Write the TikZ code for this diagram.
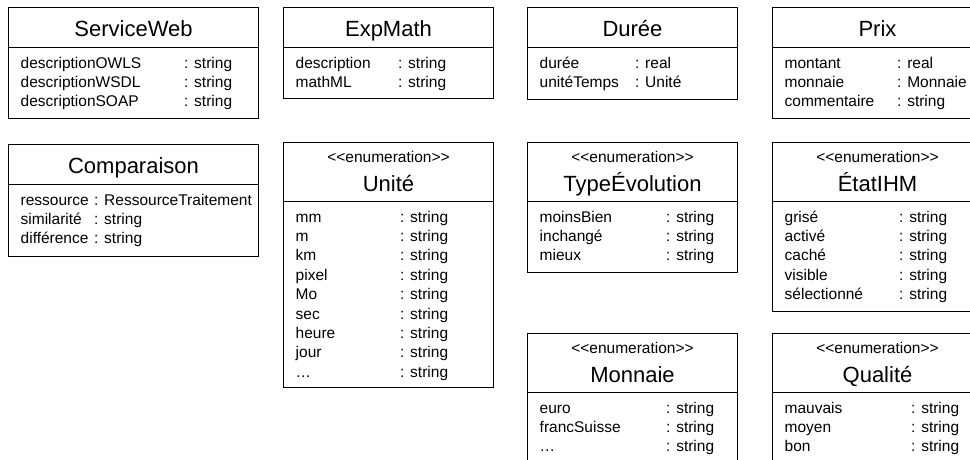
\documentclass[tikz,border=0pt]{standalone}
\usepackage{fontspec}
\setmainfont{Liberation Sans}

\tikzset{
  classbox/.style={draw, line width=1pt, inner sep=0pt, anchor=north west},
  classname/.style={font=\fontsize{22}{26}\selectfont, anchor=base, inner sep=0pt},
  stereo/.style={font=\fontsize{15.5}{19}\selectfont, anchor=base, inner sep=0pt},
  attrtext/.style={font=\fontsize{15.5}{19}\selectfont, anchor=base west, inner sep=0pt},
}

% class box: id, left, top, width, height, title
\newcommand{\umlclass}[6]{%
  \node[classbox, minimum width=#4pt, minimum height=#5pt] (#1) at (#2,#3) {};
  \draw[line width=1pt] ([yshift=-40pt]#1.north west) -- ([yshift=-40pt]#1.north east);
  \node[classname] (#1-name) at ([yshift=-29pt]#1.north) {#6};
}
% enumeration box: same arguments, taller header
\newcommand{\umlenum}[6]{%
  \node[classbox, minimum width=#4pt, minimum height=#5pt] (#1) at (#2,#3) {};
  \draw[line width=1pt] ([yshift=-59pt]#1.north west) -- ([yshift=-59pt]#1.north east);
  \node[stereo] (#1-stereo) at ([yshift=-20pt]#1.north) {<\kern0pt<enumeration>\kern0pt>};
  \node[classname] (#1-name) at ([yshift=-49pt]#1.north) {#6};
}
% attribute rows: id, colon offset, header height, name/type list
\newcommand{\umlattrs}[4]{%
  \foreach \aname/\atype [count=\k] in {#4} {
    \node[attrtext] (#1-n\k) at ([xshift=12.5pt, yshift={-(#3+21+(\k-1)*19.4)*1pt}]#1.north west) {\aname};
    \node[attrtext] (#1-t\k) at ([xshift=#2pt, yshift={-(#3+21+(\k-1)*19.4)*1pt}]#1.north west) {: \atype};
  }
}

\begin{document}
\begin{tikzpicture}[x=1pt, y=-1pt]
  \useasboundingbox (0,0) rectangle (970,459);
  \clip (0,0) rectangle (970,459);
  \fill[white] (0,0) rectangle (970,459);

  % top row
  \umlclass{serviceweb}{8}{7}{250}{111}{ServiceWeb}
  \umlattrs{serviceweb}{176}{40}{descriptionOWLS/string, descriptionWSDL/string, descriptionSOAP/string}
  \umlclass{expmath}{283}{7}{210}{91}{ExpMath}
  \umlattrs{expmath}{115}{40}{description/string, mathML/string}
  \umlclass{duree}{527}{7}{210}{92}{Durée}
  \umlattrs{duree}{108}{40}{durée/real, unitéTemps/Unité}
  \umlclass{prix}{772}{7}{210}{111}{Prix}
  \umlattrs{prix}{125}{40}{montant/real, monnaie/Monnaie, commentaire/string}

  % second row
  \umlclass{comparaison}{8}{144}{250}{112}{Comparaison}
  \umlattrs{comparaison}{86}{40}{ressource/RessourceTraitement, similarité/string, différence/string}
  \umlenum{unite}{283}{142}{210}{245}{Unité}
  \umlattrs{unite}{117}{59}{mm/string, m/string, km/string, pixel/string, Mo/string, sec/string, heure/string, jour/string, \ldots/string}
  \umlenum{typeevol}{527}{142}{210}{130}{TypeÉvolution}
  \umlattrs{typeevol}{139}{59}{moinsBien/string, inchangé/string, mieux/string}
  \umlenum{etatihm}{772}{142}{210}{169}{ÉtatIHM}
  \umlattrs{etatihm}{127}{59}{grisé/string, activé/string, caché/string, visible/string, sélectionné/string}

  % third row
  \umlenum{monnaie}{527}{333}{210}{131}{Monnaie}
  \umlattrs{monnaie}{139}{59}{euro/string, francSuisse/string, \ldots/string}
  \umlenum{qualite}{772}{333}{210}{131}{Qualité}
  \umlattrs{qualite}{139}{59}{mauvais/string, moyen/string, bon/string}
\end{tikzpicture}
\end{document}
